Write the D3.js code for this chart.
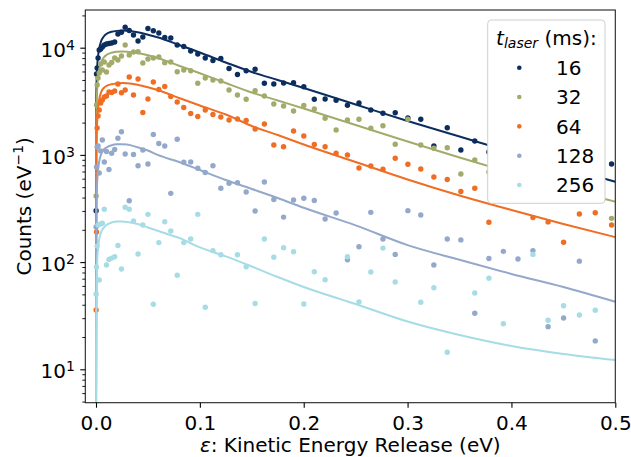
<!DOCTYPE html>
<html><head><meta charset="utf-8">
<script src="https://cdn.jsdelivr.net/npm/d3@7"></script>
<style>
body{margin:0;background:#fff}
svg{display:block}
text{font-family:"DejaVu Sans",sans-serif;fill:#000}
</style>
</head><body>
<svg id="chart" width="631" height="457"></svg>
<script>
// ---- data ----
const energy = [0.0001,0.0005,0.0011,0.0020,0.0031,0.0045,0.0061,0.0080,0.0101,0.0125,0.0151,0.0180,0.0211,0.0245,0.0281,0.0320,0.0361,0.0405,0.0451,0.0500,0.0552,0.0605,0.0662,0.0720,0.0782,0.0845,0.0912,0.0980,0.1052,0.1126,0.1202,0.1281,0.1362,0.1446,0.1532,0.1621,0.1712,0.1806,0.1902,0.2001,0.2102,0.2206,0.2312,0.2421,0.2532,0.2646,0.2763,0.2881,0.3003,0.3127,0.3253,0.3382,0.3513,0.3647,0.3783,0.3922,0.4063,0.4207,0.4353,0.4502,0.4654,0.4807,0.4964];

const counts16 = [302,5684,6466,8015,9517,9725,10150,10600,10830,10940,11060,11300,13420,13920,15500,14470,13140,11550,12580,15100,14410,13710,12450,12320,10600,10260,9315,8732,8015,7598,7930,6397,5623,6101,6287,4654,4585,4684,4715,4326,3301,3322,3230,2902,3049,2623,2443,2475,2209,2148,1211,1794,1111,1348,1064,935,1041,858,896,723,805,649,822];
const counts32 = [414,2921,4488,5216,5808,7047,6194,7355,5934,6895,7276,8015,7678,8368,10600,8550,9119,9178,7200,7845,8015,8187,7245,7355,5973,6194,6101,4654,5216,4996,4890,4031,3621,3301,3972,3543,2985,2859,2567,2890,2681,2195,1707,2117,2148,1771,1872,1256,2148,1237,1152,1167,664,896,693,583,636,513,547,451,491,414,256];
const counts64 = [35.8,191,1782,2307,2623,3049,3252,3468,3543,3862,3821,3946,4585,3804,4031,5329,3621,5105,2485,3322,4786,4075,4345,3505,3114,2768,2432,2281,2623,2381,2257,2117,2162,2094,1744,1942,1237,1193,1670,1500,1250,1193,1035,998,755,788,734,929,817,739,622,590,456,488,235,396,380,260,237,153,281,289,222];
const counts128 = [213,771,1185,1211,678,1088,1377,858,1076,731,1035,1123,1429,1646,1019,374,1009,793,1111,823,1550,1277,1211,438,1401,855,858,750,685,793,488,543,550,451,300,559,384,263,380,394,376,252,287,105,139,291,164,118,302,275,94,164,161,33.3,108,126,107,128,25,30.1,102,18.4,null];
const counts256 = [50.4,90,141,222,68.1,227,230,311,94,106,109,112,143,86.2,325,311,242,119,222,279,40.4,152,238,195,75.5,152,164,279,37.9,128,117,null,117,90.6,41.1,164,111,136,125,40.6,81.4,68.5,null,112,42.4,80.8,135,65.2,null,42.2,57.7,14.4,null,51.5,70.6,26.6,null,118,28.7,39.2,32.1,35.5,null];

// fitted curves, read at these energies
const fitEnergy = [0,0.0002,0.0005,0.001,0.002,0.003,0.005,0.0075,0.01,0.015,0.02,0.025,0.03,0.04,0.05,0.06,0.08,0.1,0.125,0.15,0.175,0.2,0.25,0.3,0.35,0.4,0.45,0.5];
const fit16  = [1,2623,4488,6194,8368,9725,11550,12720,13420,14070,14350,14440,14380,13920,13220,12450,10600,9020,7276,5934,4996,4207,2952,2071,1484,1064,771,562];
const fit32  = [1,1533,2623,3862,5216,6194,7355,8102,8550,8982,9158,9217,9178,8905,8495,7982,6793,5782,4684,3821,3217,2709,1901,1334,946,678,491,366];
const fit64  = [1,380,1111,1901,2738,3252,3862,4207,4391,4566,4645,4675,4654,4507,4272,4004,3395,2890,2381,1861,1533,1250,858,590,418,306,227,171];
const fit128 = [1,161,341,524,723,858,1019,1123,1172,1232,1256,1258,1250,1177,1099,994,858,723,583,481,396,321,220,144,105,77.5,58.6,42.7];
const fit256 = [1,18.8,54.9,94,135,161,191,210,222,234,239,239,237,227,210,195,168,137,113,91,72.6,58.6,40.6,27.9,20.9,16.5,13.9,12.2];

const seriesLabels = ["16","32","64","128","256"];
const seriesColors = ["#0c2e5e","#a3ab6b","#ef6e24","#93a8cb","#a6dce5"];
const xTicks = [0,0.1,0.2,0.3,0.4,0.5];
const yTicks = [10,100,1000,10000];

// ---- layout ----
const W = 631, H = 457;
const P = {left:85.3, right:615.3, top:10, bottom:402.7};
const svg = d3.select("#chart");
svg.append("rect").attr("width",W).attr("height",H).attr("fill","#fff");

const x = d3.scaleLinear().domain([-0.0103,0.5]).range([P.left,P.right]);
const y = d3.scaleLog().domain([4.88,22470]).range([P.bottom,P.top]);

svg.append("defs").append("clipPath").attr("id","clip")
  .append("rect").attr("x",P.left).attr("y",P.top)
  .attr("width",P.right-P.left).attr("height",P.bottom-P.top);

const series = [
  {label:seriesLabels[0],color:seriesColors[0],counts:counts16,fit:fit16},
  {label:seriesLabels[1],color:seriesColors[1],counts:counts32,fit:fit32},
  {label:seriesLabels[2],color:seriesColors[2],counts:counts64,fit:fit64},
  {label:seriesLabels[3],color:seriesColors[3],counts:counts128,fit:fit128},
  {label:seriesLabels[4],color:seriesColors[4],counts:counts256,fit:fit256}
];

const gData = svg.append("g").attr("clip-path","url(#clip)");
const line = d3.line().x(d=>x(d[0])).y(d=>y(d[1])).curve(d3.curveMonotoneX);
series.forEach(s=>{
  const pts = energy.map((e,i)=>[e,s.counts[i]]).filter(d=>d[1]!=null);
  gData.append("g").selectAll("circle").data(pts).join("circle")
    .attr("cx",d=>x(d[0])).attr("cy",d=>y(d[1])).attr("r",2.7).attr("fill",s.color);
  gData.append("path").datum(fitEnergy.map((e,i)=>[e,s.fit[i]]))
    .attr("d",line).attr("fill","none").attr("stroke",s.color).attr("stroke-width",2);
});

// frame
svg.append("rect").attr("x",P.left).attr("y",P.top)
  .attr("width",P.right-P.left).attr("height",P.bottom-P.top)
  .attr("fill","none").attr("stroke","#222").attr("stroke-width",1.1);

// x axis
const gx = svg.append("g").attr("transform",`translate(0,${P.bottom})`)
  .call(d3.axisBottom(x).tickValues(xTicks).tickFormat(d3.format(".1f"))
    .tickSize(5).tickPadding(8).tickSizeOuter(0));
gx.select(".domain").remove();
gx.selectAll(".tick line").attr("stroke","#000").attr("stroke-width",1.1);
gx.selectAll(".tick text").attr("font-size",20).attr("font-family","DejaVu Sans").attr("fill","#000");

// y axis minor ticks
const minor = [];
for (let p=0;p<=4;p++) for (let m=2;m<=9;m++){const v=m*Math.pow(10,p); if(v>=y.domain()[0]&&v<=y.domain()[1]) minor.push(v);}
const gym = svg.append("g").attr("transform",`translate(${P.left},0)`)
  .call(d3.axisLeft(y).tickValues(minor).tickFormat(()=>"").tickSize(3).tickSizeOuter(0));
gym.select(".domain").remove();
gym.selectAll(".tick line").attr("stroke","#000").attr("stroke-width",0.9);

// y axis major ticks
const gy = svg.append("g").attr("transform",`translate(${P.left},0)`)
  .call(d3.axisLeft(y).tickValues(yTicks).tickFormat(()=>"").tickSize(5).tickPadding(5.5).tickSizeOuter(0));
gy.select(".domain").remove();
gy.selectAll(".tick line").attr("stroke","#000").attr("stroke-width",1.1);
gy.selectAll(".tick text").each(function(d){
  const t = d3.select(this).attr("dy","0.42em").attr("font-size",20).attr("font-family","DejaVu Sans").attr("fill","#000");
  t.append("tspan").text("10");
  t.append("tspan").attr("font-size",14).attr("dy",-7).text(Math.round(Math.log10(d)));
});

// axis labels
const xl = svg.append("text").attr("x",(P.left+P.right)/2).attr("y",451.5)
  .attr("text-anchor","middle").attr("font-size",20);
xl.append("tspan").attr("font-style","italic").text("ε");
xl.append("tspan").text(": Kinetic Energy Release (eV)");

const yl = svg.append("text").attr("transform",`translate(30.5,${(P.top+P.bottom)/2}) rotate(-90)`)
  .attr("text-anchor","middle").attr("font-size",20);
yl.append("tspan").text("Counts (eV");
yl.append("tspan").attr("font-size",14).attr("dy",-8).text("−1");
yl.append("tspan").attr("dy",8).text(")");

// legend
const lg = svg.append("g");
lg.append("rect").attr("x",487.7).attr("y",20).attr("width",117.3).attr("height",183.3)
  .attr("rx",3.5).attr("fill","#fff").attr("stroke","#cfcfcf").attr("stroke-width",1);
const lt = lg.append("text").attr("x",546.4).attr("y",44.5).attr("text-anchor","middle").attr("font-size",20);
lt.append("tspan").attr("font-style","italic").text("t");
lt.append("tspan").attr("font-style","italic").attr("font-size",14).attr("dy",3.5).text("laser");
lt.append("tspan").attr("dy",-3.5).text(" (ms):");
series.forEach((s,i)=>{
  const cy = 67.7 + i*29.33;
  lg.append("circle").attr("cx",519.3).attr("cy",cy).attr("r",2.3).attr("fill",s.color);
  lg.append("text").attr("x",556).attr("y",cy+7.3).attr("font-size",20).text(s.label);
});
</script>
</body></html>
